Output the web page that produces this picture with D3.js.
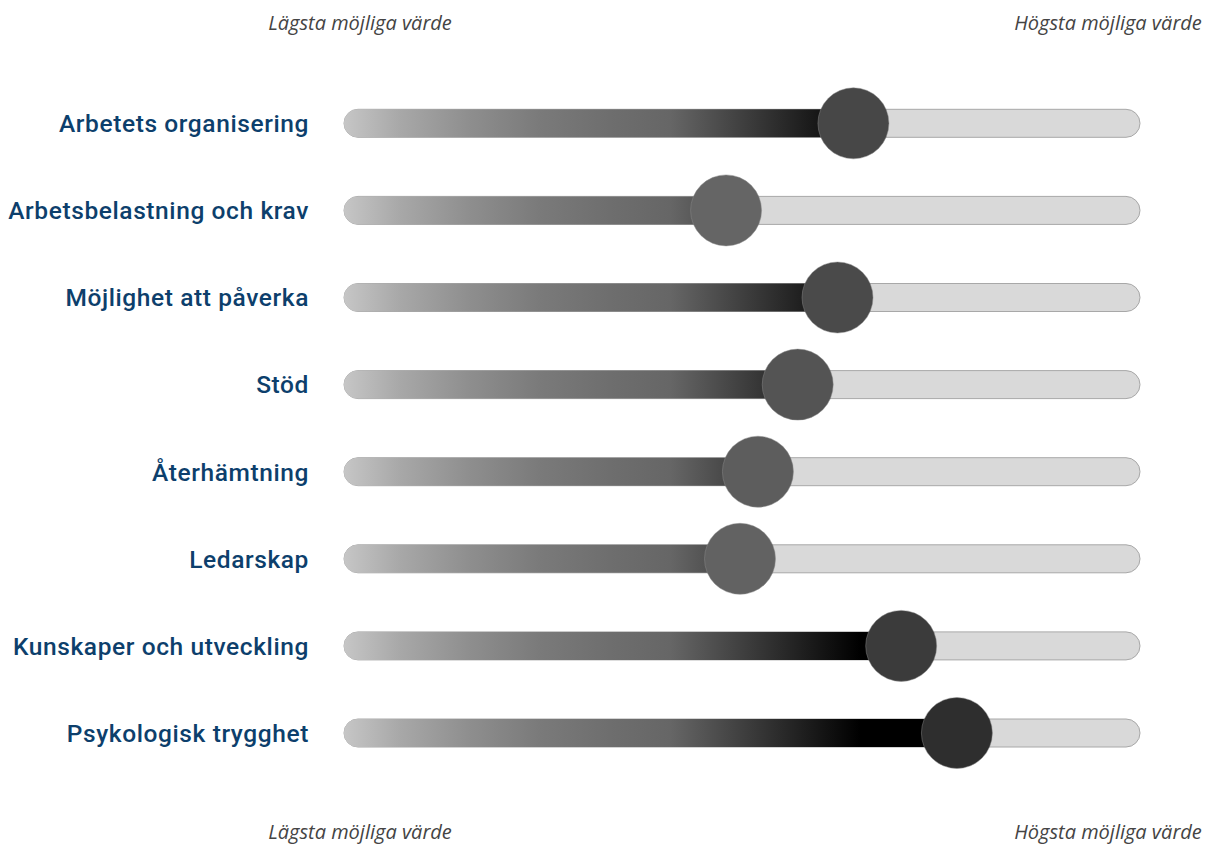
<!DOCTYPE html>
<html>
<head>
<meta charset="utf-8">
<script src="https://cdn.jsdelivr.net/npm/d3@7"></script>
<style>
  body { margin: 0; background: #fff; }
  svg { display: block; }
  .cat-label { font-family: Roboto, sans-serif; font-weight: 500; font-size: 24.5px; letter-spacing: 0.6px; fill: #0d3f6c; }
  .end-label { font-family: "Open Sans", sans-serif; font-style: italic; font-size: 20px; fill: #444; }
</style>
</head>
<body>
<svg id="chart" width="1207" height="846"></svg>
<script>
// data
var categories = ["Arbetets organisering", "Arbetsbelastning och krav", "Möjlighet att påverka", "Stöd",
    "Återhämtning", "Ledarskap", "Kunskaper och utveckling", "Psykologisk trygghet"];
var values = [3.56, 2.92, 3.48, 3.28, 3.08, 2.99, 3.80, 4.08];
var scale_min = 1, scale_max = 5;
var low_label = "Lägsta möjliga värde";
var high_label = "Högsta möjliga värde";

var svg = d3.select("#chart");
var track_left = 344, track_right = 1140, track_h = 28, knob_r = 35.5;

var x = d3.scaleLinear().domain([scale_min, scale_max]).range([track_left, track_right]);
var y = d3.scalePoint().domain(d3.range(categories.length)).range([123.3, 733]);
var knob_color = d3.scaleLinear().domain([2.92, 4.08]).range(["#656565", "#2e2e2e"]);

// shared gradient laid out along the whole track
var defs = svg.append("defs");
var grad = defs.append("linearGradient")
    .attr("id", "fill-grad")
    .attr("gradientUnits", "userSpaceOnUse")
    .attr("x1", track_left).attr("x2", track_right)
    .attr("y1", 0).attr("y2", 0);
var stops = [[0, "#c6c6c6"], [0.07, "#a8a8a8"], [0.158, "#8e8e8e"], [0.246, "#7a7a7a"],
    [0.334, "#6e6e6e"], [0.41, "#666666"], [0.648, "#000000"], [1, "#000000"]];
grad.selectAll("stop").data(stops).enter().append("stop")
    .attr("offset", function(d) { return d[0]; })
    .attr("stop-color", function(d) { return d[1]; });

var rows = svg.selectAll(".row").data(categories).enter().append("g")
    .attr("class", "row")
    .attr("transform", function(d, i) { return "translate(0," + y(i) + ")"; });

rows.append("rect")
    .attr("x", track_left).attr("y", -track_h / 2)
    .attr("width", track_right - track_left).attr("height", track_h)
    .attr("rx", track_h / 2)
    .attr("fill", "#d9d9d9")
    .attr("stroke", "#a8a8a8").attr("stroke-width", 1);

rows.append("rect")
    .attr("x", track_left).attr("y", -track_h / 2)
    .attr("width", function(d, i) { return x(values[i]) - track_left; })
    .attr("height", track_h)
    .attr("rx", track_h / 2)
    .attr("fill", "url(#fill-grad)");

rows.append("circle")
    .attr("cx", function(d, i) { return x(values[i]); })
    .attr("cy", 0)
    .attr("r", knob_r)
    .attr("fill", function(d, i) { return knob_color(values[i]); })
    .attr("stroke", "rgba(140,140,140,0.6)").attr("stroke-width", 0.8);

rows.append("text")
    .attr("class", "cat-label")
    .attr("x", 309).attr("y", 0).attr("dy", "0.36em")
    .attr("text-anchor", "end")
    .text(function(d) { return d; });

// end labels, top and bottom
[30, 839].forEach(function(yy) {
    svg.append("text").attr("class", "end-label")
        .attr("x", 360).attr("y", yy).attr("text-anchor", "middle").text(low_label);
    svg.append("text").attr("class", "end-label")
        .attr("x", 1108).attr("y", yy).attr("text-anchor", "middle").text(high_label);
});
</script>
</body>
</html>
